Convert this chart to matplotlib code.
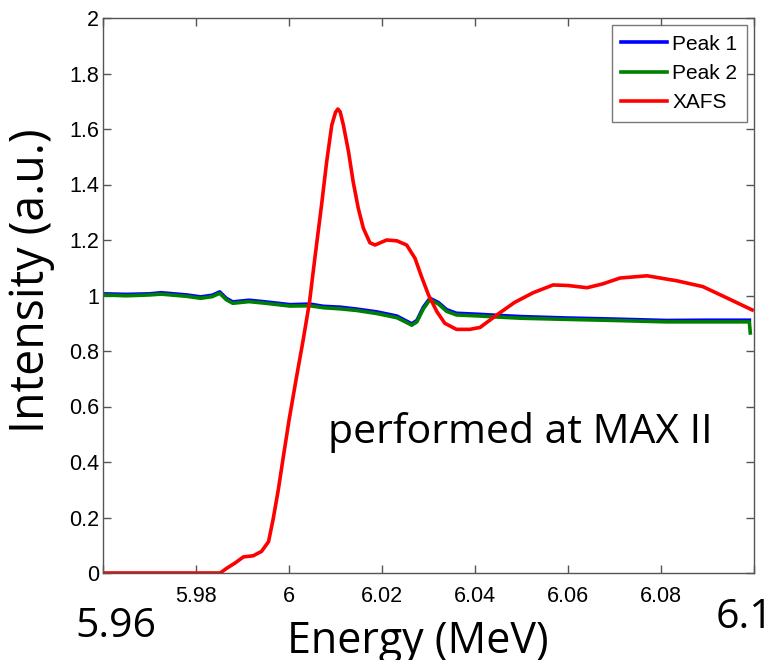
import matplotlib
matplotlib.use("Agg")
import matplotlib.pyplot as plt

# ---- data ----
xafs_energy = [5.960, 5.975, 5.9852, 5.9866, 5.9884, 5.9902, 5.9923, 5.9941, 5.9956, 5.9966,
               5.9977, 5.9987, 6.0000, 6.0015, 6.0031, 6.0044, 6.0056, 6.0070, 6.0081,
               6.0092, 6.0100, 6.0105, 6.0110, 6.0117, 6.0128, 6.0138, 6.0149, 6.0160,
               6.0174, 6.0185, 6.0210, 6.0232, 6.0253, 6.0271, 6.0285, 6.0300, 6.0318,
               6.0335, 6.0360, 6.0389, 6.0411, 6.0447, 6.0485, 6.0525, 6.0568, 6.0600,
               6.0641, 6.0675, 6.0712, 6.0770, 6.0834, 6.0890, 6.0942, 6.0996]
xafs_intensity = [0.000, 0.000, 0.000, 0.017, 0.036, 0.058, 0.062, 0.078, 0.113, 0.195,
                  0.300, 0.410, 0.550, 0.695, 0.845, 0.975, 1.140, 1.326, 1.482,
                  1.614, 1.660, 1.672, 1.662, 1.614, 1.518, 1.410, 1.314, 1.242,
                  1.190, 1.182, 1.200, 1.197, 1.182, 1.134, 1.068, 1.002, 0.942,
                  0.900, 0.878, 0.878, 0.885, 0.930, 0.975, 1.010, 1.038, 1.036,
                  1.028, 1.042, 1.063, 1.071, 1.053, 1.032, 0.991, 0.948]

peak_energy = [5.960, 5.965, 5.970, 5.9725, 5.978, 5.981, 5.9835, 5.9851, 5.9865, 5.9879,
               5.9914, 5.995, 6.0002, 6.0045, 6.0074, 6.0110, 6.0146, 6.0189, 6.0232,
               6.0249, 6.0264, 6.0275, 6.0289, 6.0303, 6.0321, 6.0339, 6.0360, 6.0411,
               6.0453, 6.050, 6.0597, 6.070, 6.0812, 6.090, 6.0990]
peak2_intensity = [1.002, 0.999, 1.002, 1.005, 0.997, 0.990, 0.996, 1.008, 0.985, 0.972,
                   0.978, 0.972, 0.962, 0.963, 0.956, 0.952, 0.946, 0.935, 0.920,
                   0.906, 0.893, 0.905, 0.952, 0.985, 0.970, 0.943, 0.930, 0.926,
                   0.922, 0.918, 0.914, 0.910, 0.905, 0.905, 0.905]
peak1_intensity = [1.006, 1.004, 1.006, 1.010, 1.002, 0.995, 1.001, 1.013, 0.990, 0.977,
                   0.983, 0.977, 0.967, 0.969, 0.961, 0.958, 0.951, 0.941, 0.926,
                   0.911, 0.898, 0.910, 0.958, 0.990, 0.975, 0.949, 0.936, 0.932,
                   0.928, 0.924, 0.919, 0.915, 0.910, 0.911, 0.911]
peak2_end_energy = [6.0992]
peak2_end_intensity = [0.865]

xtick_vals = [5.96, 5.98, 6.00, 6.02, 6.04, 6.06, 6.08, 6.10]
xtick_labels = ["", "5.98", "6", "6.02", "6.04", "6.06", "6.08", ""]
ytick_vals = [0, 0.2, 0.4, 0.6, 0.8, 1.0, 1.2, 1.4, 1.6, 1.8, 2.0]
ytick_labels = ["0", "0.2", "0.4", "0.6", "0.8", "1", "1.2", "1.4", "1.6", "1.8", "2"]

W, H = 774, 660
fig = plt.figure(figsize=(W / 100, H / 100), dpi=100)
ax = fig.add_axes([103 / W, (H - 573) / H, 651 / W, 555 / H])

lw = 2.6
ax.plot(peak_energy, peak1_intensity, color="#0000ff", lw=lw, label="Peak 1")
ax.plot(peak_energy + peak2_end_energy, peak2_intensity + peak2_end_intensity,
        color="#008000", lw=lw, label="Peak 2")
ax.plot(xafs_energy, xafs_intensity, color="#ff0000", lw=lw, label="XAFS")

ax.set_xlim(5.96, 6.10)
ax.set_ylim(0, 2)
ax.set_xticks(xtick_vals)
ax.set_xticklabels(xtick_labels)
ax.set_yticks(ytick_vals)
ax.set_yticklabels(ytick_labels)

tick_font = "Liberation Sans"
edge = "#555555"
ax.tick_params(axis="both", direction="in", length=6, width=1, color=edge,
               top=True, right=True, labelsize=15.5)
ax.tick_params(axis="x", pad=9)
ax.tick_params(axis="y", pad=3)
for lab in ax.get_xticklabels() + ax.get_yticklabels():
    lab.set_family(tick_font)
for sp in ax.spines.values():
    sp.set_color(edge)
    sp.set_linewidth(1)

leg = ax.legend(loc="upper right", prop={"family": tick_font, "size": 15},
                fancybox=False, frameon=True, borderaxespad=0.35,
                handlelength=2.2, handletextpad=0.25, labelspacing=0.5,
                borderpad=0.45)
leg.get_frame().set_edgecolor(edge)
leg.get_frame().set_linewidth(1)

big = "Open Sans"
bs = 29.5
fig.text(31 / W, 1 - 281 / H, "Intensity (a.u.)", rotation=90, ha="center", va="center",
         fontsize=33.5, family=big)
fig.text(418 / W, 7 / H, "Energy (MeV)", ha="center", va="baseline", fontsize=31, family=big)
fig.text(116 / W, (H - 637) / H, "5.96", ha="center", va="baseline", fontsize=bs, family=big)
fig.text(744 / W, (H - 628) / H, "6.1", ha="center", va="baseline", fontsize=bs, family=big)
fig.text(520 / W, (H - 443) / H, "performed at MAX II", ha="center", va="baseline",
         fontsize=bs, family=big)

fig.savefig("out.png", dpi=100)
